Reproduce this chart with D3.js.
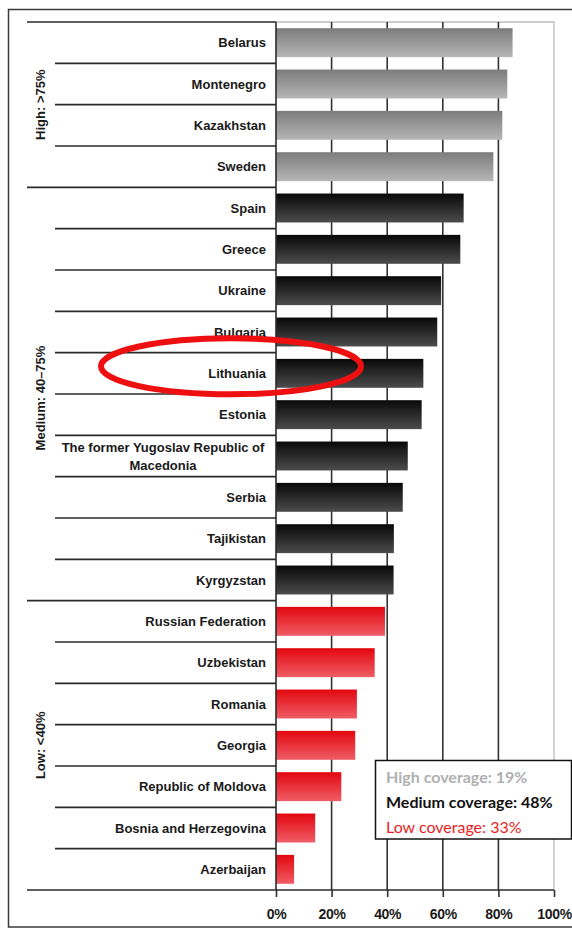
<!DOCTYPE html>
<html>
<head>
<meta charset="utf-8">
<script src="https://cdn.jsdelivr.net/npm/d3@7"></script>
<style>
  html, body { margin: 0; padding: 0; background: #fff; }
  svg { display: block; }
</style>
</head>
<body>
<svg id="chart" width="572" height="930"></svg>
<script>
// Coverage by country, sorted from highest to lowest
const countries = [
  "Belarus", "Montenegro", "Kazakhstan", "Sweden",
  "Spain", "Greece", "Ukraine", "Bulgaria", "Lithuania", "Estonia",
  "The former Yugoslav Republic of Macedonia", "Serbia", "Tajikistan", "Kyrgyzstan",
  "Russian Federation", "Uzbekistan", "Romania", "Georgia",
  "Republic of Moldova", "Bosnia and Herzegovina", "Azerbaijan"
];
const coverage = [
  85.1, 83.2, 81.4, 78.2,
  67.5, 66.3, 59.4, 58.0, 53.0, 52.4, 47.4, 45.6, 42.4, 42.3,
  39.2, 35.5, 29.1, 28.5, 23.5, 14.1, 6.5
];
// Coverage tier of each country
const tiers = [
  "high", "high", "high", "high",
  "medium", "medium", "medium", "medium", "medium", "medium", "medium", "medium", "medium", "medium",
  "low", "low", "low", "low", "low", "low", "low"
];
const tierKeys = ["high", "medium", "low"];
const tierLabels = ["High: >75%", "Medium: 40\u201375%", "Low: <40%"];
const legendTexts = ["High coverage: 19%", "Medium coverage: 48%", "Low coverage: 33%"];
const xTicks = [0, 20, 40, 60, 80, 100];
const highlighted = "Lithuania";

// Styling per tier: bar gradient (top, bottom) and legend text
const tierStyle = {
  high:   { top: "#7c7c7c", bottom: "#b6b6b6", legend: "#b0b0b0", weight: "bold" },
  medium: { top: "#080808", bottom: "#4c4c4c", legend: "#111111", weight: "bold" },
  low:    { top: "#e3070f", bottom: "#ef5d66", legend: "#ea1d22", weight: "normal" }
};

const svg = d3.select("#chart");
const data = countries.map((c, i) => ({ name: c, value: coverage[i], tier: tiers[i] }));

const x = d3.scaleLinear().domain([0, 100]).range([276, 554]);
const y = d3.scaleBand().domain(countries).range([22, 890])
  .paddingInner(0.3).paddingOuter(0.15);
const step = y.step();
const yTop = y.range()[0], yBottom = y.range()[1];
const boundary = i => yTop + i * step;

// Gradients
const defs = svg.append("defs");
tierKeys.forEach(k => {
  const g = defs.append("linearGradient").attr("id", "grad-" + k)
    .attr("x1", 0).attr("y1", 0).attr("x2", 0).attr("y2", 1);
  g.append("stop").attr("offset", "0%").attr("stop-color", tierStyle[k].top);
  g.append("stop").attr("offset", "100%").attr("stop-color", tierStyle[k].bottom);
});

// Outer frame
svg.append("rect")
  .attr("x", 8.5).attr("y", 9.5).attr("width", 620).attr("height", 917.5)
  .attr("fill", "none").attr("stroke", "#3a3a3a").attr("stroke-width", 1.5);

// Plot area border (top and right)
svg.append("path")
  .attr("d", `M${x(0)},${yTop}H${x(100)}V${yBottom}`)
  .attr("fill", "none").attr("stroke", "#bdbdbd").attr("stroke-width", 1.3);

// Vertical gridlines
svg.append("g").selectAll("line")
  .data(xTicks.filter(t => t > 0 && t < 100))
  .join("line")
  .attr("x1", d => x(d)).attr("x2", d => x(d))
  .attr("y1", yTop).attr("y2", yBottom)
  .attr("stroke", "#333").attr("stroke-width", 1.6);

// Bars
svg.append("g").selectAll("rect")
  .data(data)
  .join("rect")
  .attr("x", x(0))
  .attr("y", d => y(d.name))
  .attr("width", d => x(d.value) - x(0))
  .attr("height", y.bandwidth())
  .attr("fill", d => `url(#grad-${d.tier})`);

// X axis
const xAxis = svg.append("g")
  .attr("transform", `translate(0,${yBottom})`)
  .call(d3.axisBottom(x).tickValues(xTicks).tickFormat(d => d + "%")
    .tickSize(7).tickPadding(12));
xAxis.select(".domain").remove();
xAxis.selectAll(".tick line").attr("stroke", "#333").attr("stroke-width", 1.6);
xAxis.selectAll(".tick text")
  .attr("fill", "#1a1a1a")
  .style("font-family", "'Liberation Sans', Arial, sans-serif")
  .style("font-size", "14px").style("font-weight", "bold")
  .style("letter-spacing", "-0.3px");

// Category axis line
svg.append("line")
  .attr("x1", x(0)).attr("x2", x(0)).attr("y1", yTop).attr("y2", yBottom)
  .attr("stroke", "#2a2a2a").attr("stroke-width", 1.6);

// Row separators: long at tier boundaries, short elsewhere
const isTierBoundary = i => i === 0 || i === countries.length || tiers[i] !== tiers[i - 1];
svg.append("g").selectAll("line")
  .data(d3.range(countries.length + 1))
  .join("line")
  .attr("x1", i => isTierBoundary(i) ? 27 : 55)
  .attr("x2", i => i === countries.length ? x(100) : x(0))
  .attr("y1", i => boundary(i)).attr("y2", i => boundary(i))
  .attr("stroke", "#2a2a2a").attr("stroke-width", 1.6);

// Category labels
const labelFont = "'Liberation Sans', Arial, sans-serif";
const labels = svg.append("g")
  .style("font-family", labelFont).style("font-size", "13px")
  .style("font-weight", "bold").attr("fill", "#1a1a1a");
data.forEach(d => {
  const cy = y(d.name) + y.bandwidth() / 2;
  if (d.name.length > 30) {
    // two-line label, centered
    const parts = ["The former Yugoslav Republic of", "Macedonia"];
    const t = labels.append("text").attr("text-anchor", "middle");
    parts.forEach((p, j) => {
      t.append("tspan").attr("x", 163).attr("y", cy - 4.5 + j * 18.5).text(p);
    });
  } else {
    labels.append("text")
      .attr("x", 266).attr("y", cy + 4.7)
      .attr("text-anchor", "end")
      .text(d.name);
  }
});

// Tier labels (rotated)
tierKeys.forEach((k, ti) => {
  const idx = tiers.map((t, i) => t === k ? i : -1).filter(i => i >= 0);
  const y0 = boundary(idx[0]), y1 = boundary(idx[idx.length - 1] + 1);
  svg.append("text")
    .attr("transform", `translate(45,${(y0 + y1) / 2 + (k === "medium" ? 4 : 0)}) rotate(-90)`)
    .attr("text-anchor", "middle")
    .style("font-family", labelFont).style("font-size", "13px")
    .style("font-weight", "bold").attr("fill", "#1a1a1a")
    .text(tierLabels[ti]);
});

// Legend box
const legend = svg.append("g");
legend.append("rect")
  .attr("x", 375.5).attr("y", 760.5).attr("width", 196).attr("height", 78.5)
  .attr("fill", "#fff").attr("stroke", "#111").attr("stroke-width", 1.5);
legendTexts.forEach((txt, i) => {
  const st = tierStyle[tierKeys[i]];
  legend.append("text")
    .attr("x", 386).attr("y", 783 + i * 25)
    .style("font-family", "Lato, 'Open Sans', sans-serif")
    .style("font-size", "16px")
    .style("font-weight", st.weight)
    .attr("fill", st.legend)
    .text(txt);
});

// Highlight ring around the selected country
const hy = y(highlighted) + y.bandwidth() / 2;
svg.append("ellipse")
  .attr("cx", x(0) - 45).attr("cy", hy - 7)
  .attr("rx", 130).attr("ry", 28)
  .attr("fill", "none").attr("stroke", "#ee1010").attr("stroke-width", 6);
</script>
</body>
</html>
